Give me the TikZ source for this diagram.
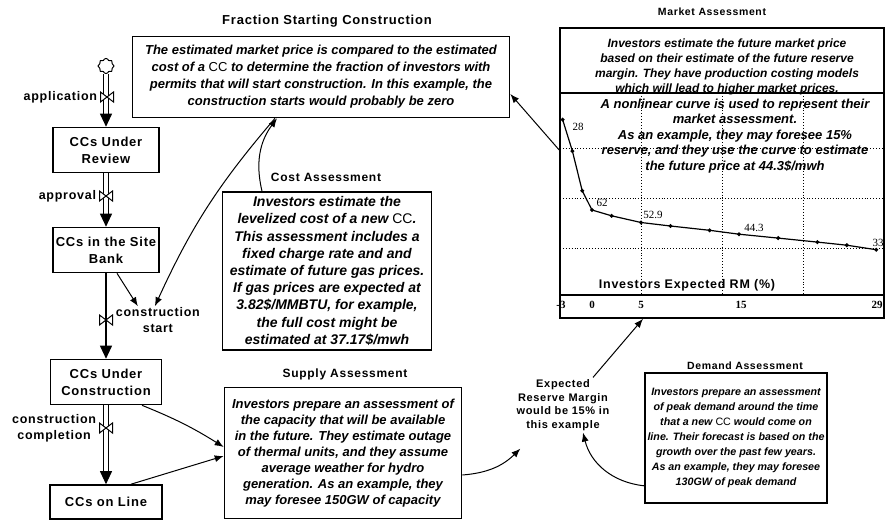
\documentclass[tikz,border=0pt]{standalone}
\usepackage{fontspec}
\setmainfont{Liberation Sans}
\newfontfamily\widefont[LetterSpace=6]{Liberation Sans}
\newfontfamily\chartfont{Liberation Serif}
\usetikzlibrary{arrows.meta,positioning,shapes.symbols}

\begin{document}
\begin{tikzpicture}[
    x=1pt, y=-1pt,
    >={Latex[length=9pt,width=7pt]},
    node distance=1pt,
    stock/.style={
        rectangle,
        draw,
        line width=1.6pt,
        minimum width=106pt,
        minimum height=45pt,
        inner sep=2pt,
        align=center,
        font=\widefont\fontsize{13}{17}\selectfont\bfseries
    },
    note/.style 2 args={
        rectangle,
        draw,
        line width=1.6pt,
        inner sep=2pt,
        align=center,
        font=\fontsize{#1}{#2}\selectfont\bfseries\itshape
    },
    heading/.style={
        inner sep=1pt,
        font=\widefont\fontsize{#1}{#1}\selectfont\bfseries
    },
    flowlabel/.style={
        inner sep=1pt,
        align=center,
        font=\widefont\fontsize{12.5}{16}\selectfont\bfseries
    },
    valve/.style={
        rectangle,
        minimum width=15pt,
        minimum height=12pt,
        inner sep=0pt,
        path picture={
            \draw[line width=1pt, fill=white]
                ([shift={(1pt,-1pt)}]path picture bounding box.north west) --
                ([shift={(-1pt,1pt)}]path picture bounding box.south east) --
                ([shift={(-1pt,-1pt)}]path picture bounding box.north east) --
                ([shift={(1pt,1pt)}]path picture bounding box.south west) -- cycle;
        }
    },
    pipe/.style={line width=1.1pt, double distance=3.4pt},
    pipetip/.style={-{Triangle[length=13pt,width=12pt]}, line width=0.9pt},
    info/.style={->, line width=1pt},
    gridline/.style={dotted, line width=0.9pt},
    chartlbl/.style={inner sep=0pt, font=\chartfont\fontsize{11}{11}\selectfont},
    ticklbl/.style={inner sep=0pt, font=\chartfont\fontsize{11}{11}\selectfont\bfseries}
]
\useasboundingbox (0,0) rectangle (885,519);

% --- Stocks and flows (left column) ---
\node[cloud, draw, line width=1pt, cloud puffs=8, aspect=1, minimum width=16pt, minimum height=15pt, inner sep=0pt] (source) at (106,66) {};
\node[stock] (review) at (106,150) {CCs Under\\Review};
\node[stock] (bank)   at (106,250) {CCs in the Site\\Bank};
\node[stock, minimum width=111pt] (build) at (106,382) {CCs Under\\Construction};
\node[stock, minimum width=112pt, minimum height=34pt] (online) at (106,502) {CCs on Line};

% pipes first, valves on top
\draw[pipe] (source) -- ([yshift=12pt]review.north);
\draw[pipetip] ([yshift=13pt]review.north) -- (review.north);
\draw[pipe] (review.south) -- ([yshift=12pt]bank.north);
\draw[pipetip] ([yshift=13pt]bank.north) -- (bank.north);
\draw[line width=2pt] (bank.south) -- ([yshift=12pt]build.north);
\draw[pipetip] ([yshift=13pt]build.north) -- (build.north);
\draw[pipe] (build.south) -- ([yshift=12pt]online.north);
\draw[pipetip] ([yshift=13pt]online.north) -- (online.north);

\node[valve] (appvalve)   at (107,97)  {};
\node[valve] (apprvalve)  at (106,196) {};
\node[valve] (startvalve) at (106,320) {};
\node[valve] (donevalve)  at (106,428) {};

\node[flowlabel, left=of appvalve]    (applbl)  {application};
\node[flowlabel, left=of apprvalve]   (apprlbl) {approval};
\node[flowlabel, right=of startvalve] (cstart)  {construction\\start};
\node[flowlabel, left=of donevalve]   (cdone)   {construction\\completion};

% --- Assessment notes ---
\node[heading=13] (fractitle) at (327,21) {Fraction Starting Construction};
\node[note={13}{17}, minimum width=377pt, minimum height=81pt] (frac) at (321,77) {The estimated market price is compared to the estimated\\
cost of a {\upshape\mdseries CC} to determine the fraction of investors with\\
permits that will start construction. In this example, the\\
construction starts would probably be zero};

\node[heading=12] (costtitle) at (326,177) {Cost Assessment};
\node[note={14}{17.2}, minimum width=209pt, minimum height=158pt] (cost) at (327,271) {Investors estimate the\\
levelized cost of a new {\upshape\mdseries CC}.\\
This assessment includes a\\
fixed charge rate and and\\
estimate of future gas prices.\\
If gas prices are expected at\\
3.82\$/MMBTU, for example,\\
the full cost might be\\
estimated at 37.17\$/mwh};

\node[heading=12] (supplytitle) at (345,374) {Supply Assessment};
\node[note={13}{16}, minimum width=237pt, minimum height=131pt] (supply) at (343,453) {Investors prepare an assessment of\\
the capacity that will be available\\
in the future. They estimate outage\\
of thermal units, and they assume\\
average weather for hydro\\
generation. As an example, they\\
may foresee 150GW of capacity};

\node[align=center, inner sep=2pt, font=\widefont\fontsize{11}{13.5}\selectfont\bfseries] (erm) at (563,405) {Expected\\Reserve Margin\\would be 15\% in\\this example};

\node[heading=10.5] (demandtitle) at (745,366) {Demand Assessment};
\node[note={10.7}{15}, minimum width=182pt, minimum height=130pt] (demand) at (736,438) {Investors prepare an assessment\\
of peak demand around the time\\
that a new {\upshape\mdseries CC} would come on\\
line. Their forecast is based on the\\
growth over the past few years.\\
As an example, they may foresee\\
130GW of peak demand};

% --- Market assessment with its curve ---
\node[heading=10.5] (markettitle) at (712,12) {Market Assessment};
\node[draw, line width=1.6pt, minimum width=324pt, minimum height=290pt, inner sep=0pt] (market) at (722,173) {};
\node[align=center, inner sep=0pt, font=\fontsize{12}{15}\selectfont\bfseries\itshape] (mktnote) at (727,67) {Investors estimate the future market price\\
based on their estimate of the future reserve\\
margin. They have production costing models\\
which will lead to higher market prices.};

\foreach \gx in {641,722,803}
    \draw[gridline] (\gx,93) -- (\gx,295);
\foreach \gy in {148,198,248}
    \draw[gridline] (560,\gy) -- (884,\gy);
\draw[line width=1.2pt] (560,93) -- (884,93);
\draw[line width=1.5pt] (560,295) -- (884,295);

\node[align=center, inner sep=0pt, font=\fontsize{13}{15.5}\selectfont\bfseries\itshape] (curvenote) at (735,136) {A nonlinear curve is used to represent their\\
market assessment.\\
As an example, they may foresee 15\%\\
reserve, and they use the curve to estimate\\
the future price at 44.3\$/mwh};

\draw[line width=1.2pt, mark=*, mark size=1.3pt] plot coordinates {
    (562.6,119.6) (572.4,151.1) (582.2,190.8) (592,210) (611.6,215.8)
    (641,222.5) (670.4,226) (709.6,230.3) (739,234.2) (778.2,238.1)
    (817.4,242.1) (846.8,245.2) (876.2,249.7)};

\node[chartlbl] (lbl28)  at (578,127) {28};
\node[chartlbl] (lbl62)  at (602,203) {62};
\node[chartlbl] (lbl529) at (653,215) {52.9};
\node[chartlbl] (lbl443) at (754,228) {44.3};
\node[chartlbl] (lbl33)  at (878,243) {33};

\foreach \tx/\tl in {561/-3, 592/0, 641/5, 741/15, 877/29}
    \node[ticklbl] at (\tx,305) {\tl};
\node[inner sep=0pt, font=\widefont\fontsize{12.5}{12.5}\selectfont\bfseries] (axislbl) at (687,285) {Investors Expected RM (\%)};

% --- Information links ---
\draw[info] ([xshift=11pt]bank.south) -- ([xshift=-20pt]cstart.north);
\draw[info] ([xshift=-46pt]frac.south) to[bend right=8] ([xshift=-3pt]cstart.north);
\draw[info] ([xshift=-65pt]cost.north) to[bend left=25] ([xshift=-44pt]frac.south);
\draw[info] ([xshift=36pt]build.south) to[bend left=5] ([yshift=6pt]supply.west);
\draw[info] ([xshift=25pt]online.north) -- ([yshift=-3pt]supply.west);
\draw[info] ([yshift=-22pt]supply.east) to[bend right=20] ([shift={(6pt,-16pt)}]erm.south west);
\draw[info] ([yshift=18pt]demand.south west) to[bend left=35] ([xshift=20pt]erm.south);
\draw[info] ([xshift=30pt]erm.north) -- ([xshift=-79pt]market.south);
\draw[info] ([yshift=23pt]market.west) -- ([yshift=-17pt]frac.east);

\end{tikzpicture}
\end{document}
